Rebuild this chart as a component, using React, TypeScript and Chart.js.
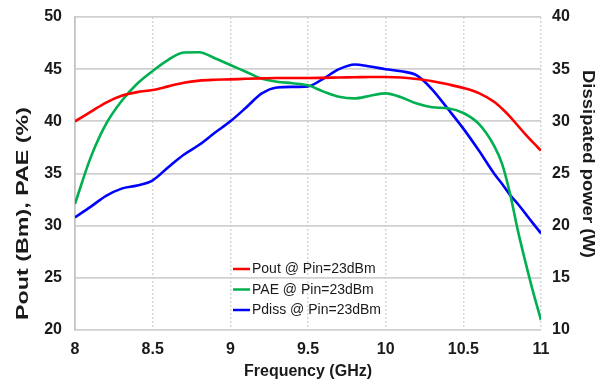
import React, { useEffect, useRef } from "react";
import { Chart, registerables } from "chart.js";

Chart.register(...registerables);

// Frequency sweep points (GHz)
const freqGHz = [
  8.0, 8.1, 8.2, 8.3, 8.4, 8.5, 8.6, 8.7, 8.8, 8.9, 9.0, 9.1, 9.2, 9.3, 9.4, 9.5,
  9.6, 9.7, 9.8, 9.9, 10.0, 10.1, 10.2, 10.3, 10.4, 10.5, 10.6, 10.7, 10.75, 10.8,
  10.85, 10.9, 10.95, 11.0,
];

// Output power (dBm) at Pin = 23 dBm
const poutDbm = [
  40.0, 40.9, 41.8, 42.45, 42.8, 43.0, 43.35, 43.7, 43.9, 43.98, 44.02, 44.08, 44.12,
  44.15, 44.15, 44.15, 44.17, 44.2, 44.22, 44.25, 44.25, 44.2, 44.05, 43.85, 43.55,
  43.2, 42.7, 41.85, 41.2, 40.45, 39.6, 38.75, 37.95, 37.2,
];

// Power-added efficiency (%) at Pin = 23 dBm
const paePct = [
  32.1, 36.5, 39.75, 41.95, 43.6, 44.83, 45.9, 46.6, 46.62, 46.05, 45.4, 44.75, 44.1,
  43.8, 43.65, 43.45, 42.85, 42.35, 42.2, 42.45, 42.68, 42.3, 41.7, 41.35, 41.25,
  40.8, 39.75, 37.6, 35.9, 33.1, 29.6, 26.5, 23.6, 20.95,
];

// Dissipated power (W) at Pin = 23 dBm
const pdissW = [
  20.8, 21.8, 22.85, 23.55, 23.85, 24.35, 25.6, 26.8, 27.75, 28.9, 30.0, 31.3, 32.65,
  33.25, 33.3, 33.35, 34.1, 35.0, 35.45, 35.25, 35.0, 34.8, 34.4, 33.05, 31.2, 29.3,
  27.2, 24.95, 24.0, 22.95, 22.1, 21.15, 20.2, 19.26,
];

const seriesLabels = ["Pout @ Pin=23dBm", "PAE @ Pin=23dBm", "Pdiss @ Pin=23dBm"];
const seriesColors = ["#ff0000", "#00b050", "#0000ff"];

const xTicks = [8, 8.5, 9, 9.5, 10, 10.5, 11];
const leftTicks = [20, 25, 30, 35, 40, 45, 50];
const rightTicks = [10, 15, 20, 25, 30, 35, 40];

const xTitle = "Frequency (GHz)";
const leftTitle = "Pout (Bm), PAE (%)";
const rightTitle = "Dissipated power (W)";

const FONT = '"Liberation Sans", Arial, Helvetica, sans-serif';
const TEXT = "#1a1a1a";

function drawText(
  ctx: CanvasRenderingContext2D,
  text: string,
  cx: number,
  cy: number,
  angle: number,
  font: string,
  length?: number
) {
  ctx.save();
  ctx.translate(cx, cy);
  ctx.rotate(angle);
  ctx.font = font;
  ctx.fillStyle = TEXT;
  ctx.textAlign = "center";
  ctx.textBaseline = "middle";
  if (length) {
    const w = ctx.measureText(text).width;
    ctx.scale(length / w, 1);
  }
  ctx.fillText(text, 0, 0);
  ctx.restore();
}

const decorations = {
  id: "decorations",
  afterDraw(chart: any) {
    const ctx: CanvasRenderingContext2D = chart.ctx;
    const area = chart.chartArea;

    // axis titles
    drawText(ctx, xTitle, (area.left + area.right) / 2, 372, 0, `bold 16px ${FONT}`);
    drawText(ctx, leftTitle, 23.5, 213.5, -Math.PI / 2, `bold 17px ${FONT}`, 213);
    drawText(ctx, rightTitle, 588, 164, Math.PI / 2, `bold 17px ${FONT}`, 188);

    // legend inside the plot
    const lx = 233;
    const rows = [269, 289.5, 310];
    chart.data.datasets.forEach((ds: any, i: number) => {
      const y = rows[i];
      ctx.save();
      ctx.strokeStyle = ds.borderColor;
      ctx.lineWidth = 2.5;
      ctx.beginPath();
      ctx.moveTo(lx, y);
      ctx.lineTo(lx + 17, y);
      ctx.stroke();
      ctx.font = `14px ${FONT}`;
      ctx.fillStyle = TEXT;
      ctx.textAlign = "left";
      ctx.textBaseline = "middle";
      ctx.fillText(ds.label, lx + 19, y + 0.5);
      ctx.restore();
    });
  },
};

const tickFont = { family: FONT, size: 16, weight: "bold" as const };

export default function App() {
  const canvasRef = useRef<HTMLCanvasElement | null>(null);

  useEffect(() => {
    const canvas = canvasRef.current;
    if (!canvas) return;

    const values = [poutDbm, paePct, pdissW];
    const datasets = values.map((vals, i) => ({
      label: seriesLabels[i],
      data: freqGHz.map((f, k) => ({ x: f, y: vals[k] })),
      borderColor: seriesColors[i],
      backgroundColor: seriesColors[i],
      borderWidth: 2.6,
      pointRadius: 0,
      cubicInterpolationMode: "monotone" as const,
      yAxisID: i === 2 ? "y1" : "y",
    }));

    const chart = new Chart(canvas, {
      type: "line",
      data: { datasets },
      options: {
        responsive: false,
        animation: false,
        layout: { padding: { top: 17, left: 0, right: 0, bottom: 0 } },
        plugins: { legend: { display: false }, tooltip: { enabled: false } },
        scales: {
          x: {
            type: "linear",
            min: 8,
            max: 11,
            afterBuildTicks: (s: any) => {
              s.ticks = xTicks.map((v) => ({ value: v }));
            },
            afterFit: (s: any) => {
              s.height = 50;
              s.paddingLeft = 0;
              s.paddingRight = 0;
            },
            ticks: {
              padding: 10,
              color: TEXT,
              font: tickFont,
              maxRotation: 0,
              callback: (v: any) => String(Number(v)),
            },
            grid: { color: "#d6d6d6", lineWidth: 1.5, drawTicks: false },
            border: { display: false, dash: [2, 2] },
          },
          y: {
            position: "left",
            min: 20,
            max: 50,
            afterBuildTicks: (s: any) => {
              s.ticks = leftTicks.map((v) => ({ value: v }));
            },
            afterFit: (s: any) => {
              s.width = 75;
              s.paddingTop = 0;
              s.paddingBottom = 0;
            },
            ticks: {
              padding: 13,
              color: TEXT,
              font: tickFont,
              callback: (v: any) => String(Number(v)),
            },
            grid: { color: "#d0d0d0", lineWidth: 1.8, drawTicks: false },
            border: { display: true, color: "#c4c4c4", width: 1.8 },
          },
          y1: {
            position: "right",
            min: 10,
            max: 40,
            afterBuildTicks: (s: any) => {
              s.ticks = rightTicks.map((v) => ({ value: v }));
            },
            afterFit: (s: any) => {
              s.width = 65;
              s.paddingTop = 0;
              s.paddingBottom = 0;
            },
            ticks: {
              padding: 11,
              color: TEXT,
              font: tickFont,
              callback: (v: any) => String(Number(v)),
            },
            grid: { drawOnChartArea: false, drawTicks: false },
            border: { display: false },
          },
        },
      },
      plugins: [decorations],
    });

    return () => chart.destroy();
  }, []);

  return (
    <div style={{ position: "absolute", left: 0, top: 0, width: 606, height: 380, background: "#fff" }}>
      <canvas ref={canvasRef} width={606} height={380} style={{ display: "block" }} />
    </div>
  );
}
